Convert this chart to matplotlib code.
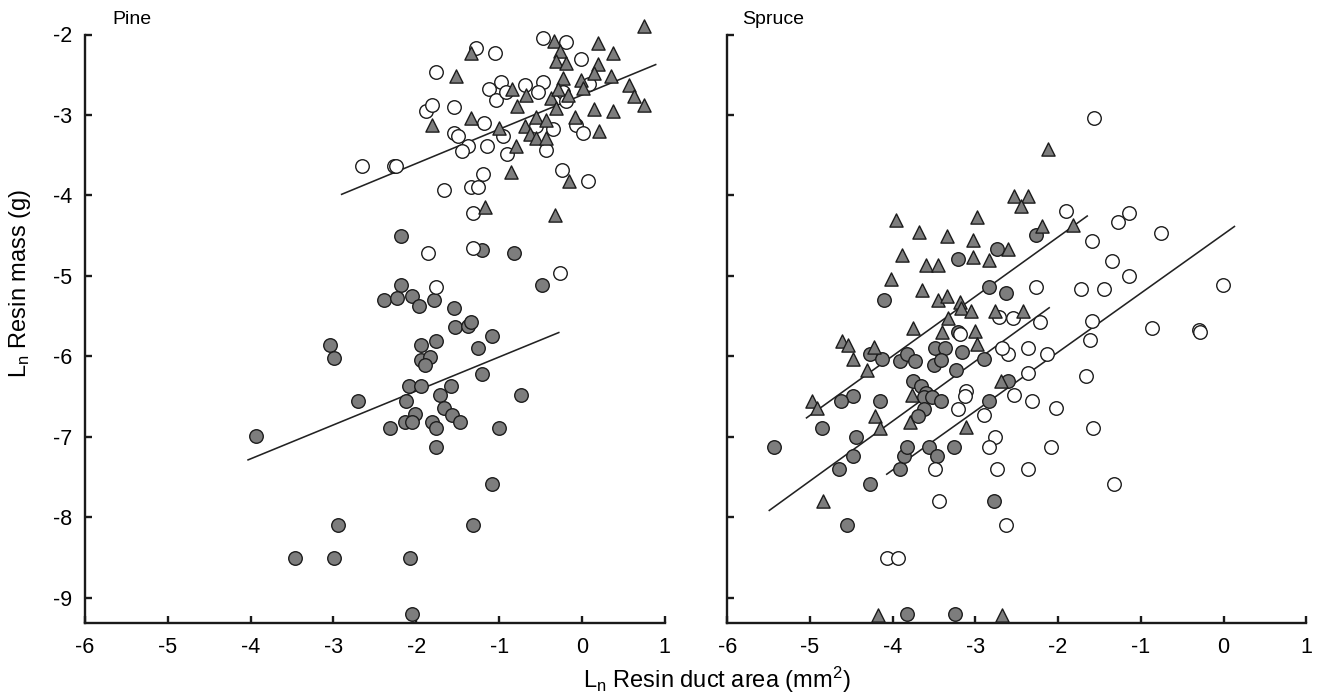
import matplotlib
matplotlib.use("Agg")
import matplotlib.pyplot as plt

plt.rcParams['font.family'] = ['Liberation Sans', 'DejaVu Sans']
plt.rcParams['axes.unicode_minus'] = False

# ---------------- data ----------------
pine_open_x = [-2.65, -2.27, -2.25, -1.76, -1.28, -1.05, -0.47, -0.19, -0.01, -1.88, -1.81, -1.55,
               -1.12, -0.98, -1.04, -0.92, -0.69, -0.47, -0.53, -0.23, -0.19, 0.09, -1.18, -1.54,
               -1.50, -1.38, -1.45, -1.14, -0.95, -0.90, -0.55, -0.35, -0.43, -0.07, 0.01, 0.07,
               -0.24, -1.20, -1.66, -1.34, -1.26, -1.32, -1.86, -1.32, -1.76, -0.27]
pine_open_y = [-3.63, -3.63, -3.64, -2.47, -2.17, -2.23, -2.04, -2.09, -2.31, -2.95, -2.88, -2.90,
               -2.68, -2.59, -2.82, -2.72, -2.63, -2.59, -2.71, -2.71, -2.83, -2.61, -3.10, -3.22,
               -3.26, -3.39, -3.45, -3.39, -3.26, -3.49, -3.14, -3.17, -3.44, -3.12, -3.23, -3.82,
               -3.69, -3.73, -3.93, -3.90, -3.90, -4.22, -4.71, -4.65, -5.14, -4.96]

pine_tri_x = [-1.34, -1.52, -1.81, -1.34, -1.00, -0.84, -0.67, -0.78, -0.69, -0.63, -0.55, -0.55,
              -0.43, -0.43, -0.79, -0.86, -1.17, -0.32, -0.16, -0.34, -0.27, -0.31, -0.19, -0.23,
              -0.37, -0.29, -0.17, -0.01, 0.01, -0.31, -0.08, 0.20, 0.38, 0.20, 0.15, 0.35,
              0.57, 0.63, 0.75, 0.15, 0.38, 0.21, 0.75]
pine_tri_y = [-2.23, -2.51, -3.12, -3.04, -3.16, -2.68, -2.75, -2.89, -3.14, -3.24, -3.02, -3.29,
              -3.06, -3.29, -3.39, -3.71, -4.14, -4.24, -3.82, -2.08, -2.21, -2.33, -2.35, -2.54,
              -2.79, -2.68, -2.75, -2.56, -2.66, -2.91, -3.02, -2.10, -2.23, -2.37, -2.48, -2.51,
              -2.63, -2.77, -2.88, -2.93, -2.95, -3.20, -1.90]

pine_grey_x = [-2.18, -1.21, -0.82, -0.48, -2.18, -2.39, -2.23, -2.05, -1.97, -1.79, -1.55, -1.53,
               -1.37, -1.34, -1.09, -3.04, -2.99, -1.94, -1.76, -1.26, -1.94, -1.84, -1.89, -1.21,
               -2.09, -1.94, -1.58, -1.71, -2.12, -2.70, -0.74, -1.66, -2.02, -1.57, -2.13, -2.05,
               -1.81, -1.47, -1.76, -2.32, -1.00, -3.93, -1.76, -1.09, -2.94, -1.32, -3.46, -2.99,
               -2.07, -2.05]
pine_grey_y = [-4.50, -4.68, -4.71, -5.11, -5.11, -5.30, -5.28, -5.25, -5.38, -5.30, -5.40, -5.63,
               -5.62, -5.57, -5.75, -5.86, -6.02, -5.86, -5.81, -5.89, -6.04, -6.01, -6.11, -6.22,
               -6.37, -6.37, -6.37, -6.48, -6.56, -6.56, -6.48, -6.64, -6.72, -6.73, -6.81, -6.81,
               -6.81, -6.81, -6.89, -6.89, -6.89, -6.99, -7.13, -7.59, -8.10, -8.10, -8.50, -8.50,
               -8.50, -9.20]

spruce_tri_x = [-2.12, -2.53, -2.37, -2.45, -3.96, -2.98, -3.68, -3.34, -3.03, -3.89, -3.03, -2.84,
                -2.61, -3.60, -3.45, -2.19, -1.82, -4.02, -3.65, -3.45, -3.34, -3.19, -3.17, -3.05,
                -2.76, -2.42, -3.33, -3.76, -3.40, -3.01, -2.98, -4.61, -4.54, -4.23, -4.48, -4.31,
                -4.97, -4.91, -4.21, -4.15, -3.79, -3.77, -3.11, -2.69, -4.84, -4.18, -2.68]
spruce_tri_y = [-3.42, -4.01, -4.01, -4.13, -4.31, -4.27, -4.45, -4.50, -4.55, -4.74, -4.77, -4.80,
                -4.66, -4.87, -4.87, -4.38, -4.37, -5.04, -5.17, -5.30, -5.25, -5.33, -5.40, -5.43,
                -5.43, -5.43, -5.52, -5.65, -5.70, -5.69, -5.84, -5.81, -5.86, -5.88, -6.03, -6.17,
                -6.56, -6.64, -6.74, -6.89, -6.81, -6.48, -6.88, -6.30, -7.80, -9.21, -9.21]

spruce_grey_x = [-2.27, -2.74, -3.21, -4.11, -2.84, -2.63, -3.21, -3.49, -3.37, -3.16, -4.27, -4.13,
                 -3.91, -3.83, -3.73, -2.89, -3.50, -3.42, -3.24, -3.76, -3.66, -3.60, -3.62, -3.53,
                 -3.42, -3.62, -3.70, -4.48, -4.62, -4.15, -4.86, -4.44, -4.48, -4.65, -4.27, -3.91,
                 -3.86, -3.83, -3.56, -3.47, -3.26, -2.84, -2.60, -2.77, -4.55, -5.44, -3.83, -3.25]
spruce_grey_y = [-4.49, -4.67, -4.79, -5.30, -5.14, -5.21, -5.70, -5.89, -5.89, -5.94, -5.97, -6.03,
                 -6.06, -5.97, -6.06, -6.03, -6.11, -6.05, -6.17, -6.30, -6.37, -6.46, -6.50, -6.50,
                 -6.56, -6.65, -6.74, -6.49, -6.56, -6.56, -6.89, -7.00, -7.24, -7.40, -7.59, -7.40,
                 -7.24, -7.13, -7.13, -7.24, -7.13, -6.56, -6.30, -7.80, -8.10, -7.13, -9.20, -9.20]

spruce_open_x = [-1.57, -1.90, -1.27, -1.14, -0.75, -1.59, -1.35, -1.14, -2.27, -1.72, -1.45, -0.01,
                 -1.59, -2.22, -2.55, -2.71, -0.86, -0.30, -0.28, -1.61, -2.37, -2.60, -2.14, -3.19,
                 -2.68, -2.37, -1.66, -3.11, -3.13, -3.21, -2.90, -2.53, -2.32, -2.03, -1.58, -2.76,
                 -2.84, -2.09, -3.49, -2.74, -2.37, -1.32, -3.44, -2.63, -4.07, -3.94]
spruce_open_y = [-3.04, -4.19, -4.33, -4.22, -4.47, -4.57, -4.82, -5.00, -5.14, -5.16, -5.16, -5.11,
                 -5.56, -5.57, -5.52, -5.51, -5.65, -5.67, -5.70, -5.80, -5.89, -5.97, -5.97, -5.72,
                 -5.89, -6.21, -6.24, -6.43, -6.49, -6.65, -6.73, -6.48, -6.56, -6.64, -6.89, -7.00,
                 -7.13, -7.13, -7.40, -7.40, -7.40, -7.59, -7.80, -8.10, -8.51, -8.51]

# fitted lines: [x_start, x_end], [y_start, y_end]
pine_fit_upper_x = [-2.91, 0.90]
pine_fit_upper_y = [-3.99, -2.37]
pine_fit_lower_x = [-4.04, -0.27]
pine_fit_lower_y = [-7.29, -5.70]
spruce_fit_tri_x = [-5.05, -1.64]
spruce_fit_tri_y = [-6.77, -4.25]
spruce_fit_grey_x = [-5.50, -2.10]
spruce_fit_grey_y = [-7.92, -5.39]
spruce_fit_open_x = [-4.08, 0.14]
spruce_fit_open_y = [-7.47, -4.38]

x_ticks = [-6, -5, -4, -3, -2, -1, 0, 1]
y_ticks = [-9, -8, -7, -6, -5, -4, -3, -2]
panel_titles = ["Pine", "Spruce"]

# ---------------- styles ----------------
GREY = '#7d7d7d'
EDGE = '#1c1c1c'
S_CIRC = 95
S_TRI = 90
LW_EDGE = 1.0
TICK_FS = 15.5
LABEL_FS = 17

fig = plt.figure(figsize=(13.2, 6.98), dpi=100)
W, H = 1320, 698
bottom = 1 - 623.3 / H
top = 1 - 34.5 / H
ax1 = fig.add_axes([85 / W, bottom, (664.7 - 85) / W, top - bottom])
ax2 = fig.add_axes([727.3 / W, bottom, (1306.2 - 727.3) / W, top - bottom])


def style(ax, labels):
    ax.set_xlim(-6, 1)
    ax.set_ylim(-9.317, -2)
    ax.spines['top'].set_visible(False)
    ax.spines['right'].set_visible(False)
    for s in ('left', 'bottom'):
        ax.spines[s].set_linewidth(1.7)
        ax.spines[s].set_color('#1a1a1a')
    ax.set_xticks(x_ticks)
    ax.set_xticklabels([str(t) for t in x_ticks])
    ax.set_yticks(y_ticks)
    if labels:
        ax.set_yticklabels([str(t) for t in y_ticks])
    else:
        ax.set_yticklabels([])
    ax.tick_params(direction='in', length=5, width=1.7, color='#1a1a1a',
                   labelsize=TICK_FS, pad=9)
    ax.tick_params(axis='x', pad=10)


def draw(ax, ox, oy, tx, ty, gx, gy, fits):
    for fx, fy in fits:
        ax.plot(fx, fy, color='#222222', lw=1.15, zorder=2, solid_capstyle='butt')
    ax.scatter(gx, gy, s=S_CIRC, marker='o', facecolor=GREY, edgecolor=EDGE,
               linewidth=LW_EDGE, zorder=3, clip_on=False)
    ax.scatter(ox, oy, s=S_CIRC, marker='o', facecolor='white', edgecolor=EDGE,
               linewidth=LW_EDGE, zorder=3, clip_on=False)
    ax.scatter(tx, ty, s=S_TRI, marker='^', facecolor=GREY, edgecolor=EDGE,
               linewidth=LW_EDGE, zorder=4, clip_on=False)


draw(ax1, pine_open_x, pine_open_y, pine_tri_x, pine_tri_y, pine_grey_x, pine_grey_y,
     [(pine_fit_upper_x, pine_fit_upper_y), (pine_fit_lower_x, pine_fit_lower_y)])
draw(ax2, spruce_open_x, spruce_open_y, spruce_tri_x, spruce_tri_y, spruce_grey_x, spruce_grey_y,
     [(spruce_fit_tri_x, spruce_fit_tri_y), (spruce_fit_grey_x, spruce_fit_grey_y),
      (spruce_fit_open_x, spruce_fit_open_y)])

style(ax1, True)
style(ax2, False)

fig.text(112 / W, 1 - 20 / H, panel_titles[0], fontsize=14, ha='left', va='center')
fig.text(742 / W, 1 - 20 / H, panel_titles[1], fontsize=14, ha='left', va='center')

fig.text(20 / W, 1 - 283 / H, r'$\mathregular{L_n}$ Resin mass (g)', rotation=90,
         fontsize=LABEL_FS, ha='center', va='center')
fig.text(717 / W, 1 - 680 / H, r'$\mathregular{L_n}$ Resin duct area (mm$\mathregular{^2}$)',
         fontsize=LABEL_FS, ha='center', va='center')

fig.savefig('out.png', dpi=100)
